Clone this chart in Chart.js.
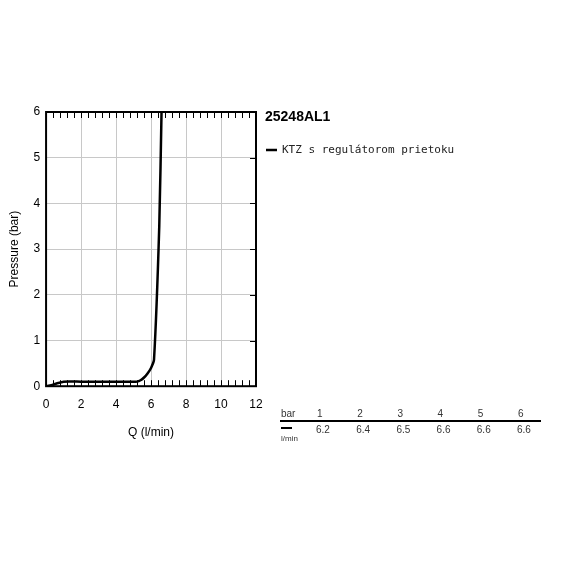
<!DOCTYPE html>
<html>
<head>
<meta charset="utf-8">
<script src="https://cdn.jsdelivr.net/npm/chart.js@4/dist/chart.umd.min.js"></script>
<style>
  html, body { margin: 0; padding: 0; background: #fff; }
  #wrap { width: 572px; height: 572px; }
</style>
</head>
<body>
<div id="wrap"><canvas id="flowChart" width="572" height="572"></canvas></div>
<script>
// curve: flow (l/min) vs pressure (bar)
const flowValues = [0, 0.3, 0.6, 1.0, 2.0, 3.0, 4.0, 5.0, 5.2, 5.4, 5.6, 5.8, 6.0, 6.17, 6.47, 6.6];
const pressureValues = [0, 0.02, 0.06, 0.1, 0.1, 0.1, 0.1, 0.1, 0.1, 0.13, 0.19, 0.28, 0.4, 0.58, 3.5, 6.0];

const chartTitle = '25248AL1';
const seriesName = 'KTZ s regulátorom prietoku';

// table under the legend
const tableBar = ['1', '2', '3', '4', '5', '6'];
const tableFlow = ['6.2', '6.4', '6.5', '6.6', '6.6', '6.6'];

const xTitle = 'Q (l/min)';
const yTitle = 'Pressure (bar)';

const points = flowValues.map((q, i) => ({ x: q, y: pressureValues[i] }));

const extrasPlugin = {
    id: 'extras',
    afterDraw(chart) {
        const ctx = chart.ctx;
        const area = chart.chartArea;
        const xs = chart.scales.x;
        const ys = chart.scales.y;
        ctx.save();

        // minor ticks top & bottom, every 0.4
        ctx.strokeStyle = '#000';
        ctx.lineWidth = 1;
        for (let v = 0.4; v < 12; v += 0.4) {
            const px = Math.round(xs.getPixelForValue(v)) + 0.5;
            ctx.beginPath();
            ctx.moveTo(px, area.bottom); ctx.lineTo(px, area.bottom - 6);
            ctx.moveTo(px, area.top); ctx.lineTo(px, area.top + 6);
            ctx.stroke();
        }
        // ticks on right border
        for (let v = 1; v < 6; v++) {
            const py = Math.round(ys.getPixelForValue(v)) + 0.5;
            ctx.beginPath();
            ctx.moveTo(area.right, py); ctx.lineTo(area.right - 6, py);
            ctx.stroke();
        }
        // frame
        ctx.lineWidth = 2;
        ctx.strokeRect(area.left, area.top, area.right - area.left, area.bottom - area.top);

        // title
        ctx.fillStyle = '#000';
        ctx.font = 'bold 14px "Liberation Sans", Arial, sans-serif';
        ctx.textBaseline = 'middle';
        ctx.textAlign = 'left';
        ctx.fillText(chartTitle, 265, 117);

        // legend
        ctx.lineWidth = 2.5;
        ctx.beginPath();
        ctx.moveTo(266, 150); ctx.lineTo(277, 150);
        ctx.stroke();
        ctx.fillStyle = '#222';
        ctx.font = '11px "DejaVu Sans Mono", monospace';
        ctx.fillText(seriesName, 282, 150);

        // table
        ctx.fillStyle = '#333';
        ctx.font = '10px "Liberation Sans", Arial, sans-serif';
        ctx.fillText('bar', 281, 414);
        tableBar.forEach((b, i) => ctx.fillText(b, 317 + i * 40.2, 414));
        ctx.strokeStyle = '#000';
        ctx.lineWidth = 2;
        ctx.beginPath();
        ctx.moveTo(280, 421); ctx.lineTo(541, 421);
        ctx.stroke();
        tableFlow.forEach((f, i) => ctx.fillText(f, 316 + i * 40.2, 430));
        ctx.lineWidth = 2;
        ctx.beginPath();
        ctx.moveTo(281, 428); ctx.lineTo(292, 428);
        ctx.stroke();
        ctx.font = '8px "Liberation Sans", Arial, sans-serif';
        ctx.fillText('l/min', 281, 439);
        ctx.restore();
    }
};

new Chart(document.getElementById('flowChart'), {
    type: 'scatter',
    data: {
        datasets: [{
            label: seriesName,
            data: points,
            showLine: true,
            borderColor: '#000',
            borderWidth: 2.5,
            pointRadius: 0,
            tension: 0.2
        }]
    },
    options: {
        responsive: false,
        animation: false,
        layout: { padding: { top: 112, right: 316, bottom: 128, left: 3 } },
        plugins: { legend: { display: false }, tooltip: { enabled: false } },
        scales: {
            x: {
                type: 'linear',
                min: 0, max: 12,
                ticks: { stepSize: 2, color: '#000', font: { family: 'Liberation Sans', size: 12 }, padding: 11 },
                grid: { color: '#c8c8c8', drawTicks: false },
                border: { display: false },
                title: { display: true, text: xTitle, color: '#000', font: { family: 'Liberation Sans', size: 12 }, padding: { top: 3 } }
            },
            y: {
                min: 0, max: 6,
                ticks: { stepSize: 1, color: '#000', font: { family: 'Liberation Sans', size: 12 }, padding: 6 },
                grid: { color: '#c8c8c8', drawTicks: false },
                border: { display: false },
                title: { display: true, text: yTitle, color: '#000', font: { family: 'Liberation Sans', size: 12 }, padding: { bottom: 6 } }
            }
        }
    },
    plugins: [extrasPlugin]
});
</script>
</body>
</html>
